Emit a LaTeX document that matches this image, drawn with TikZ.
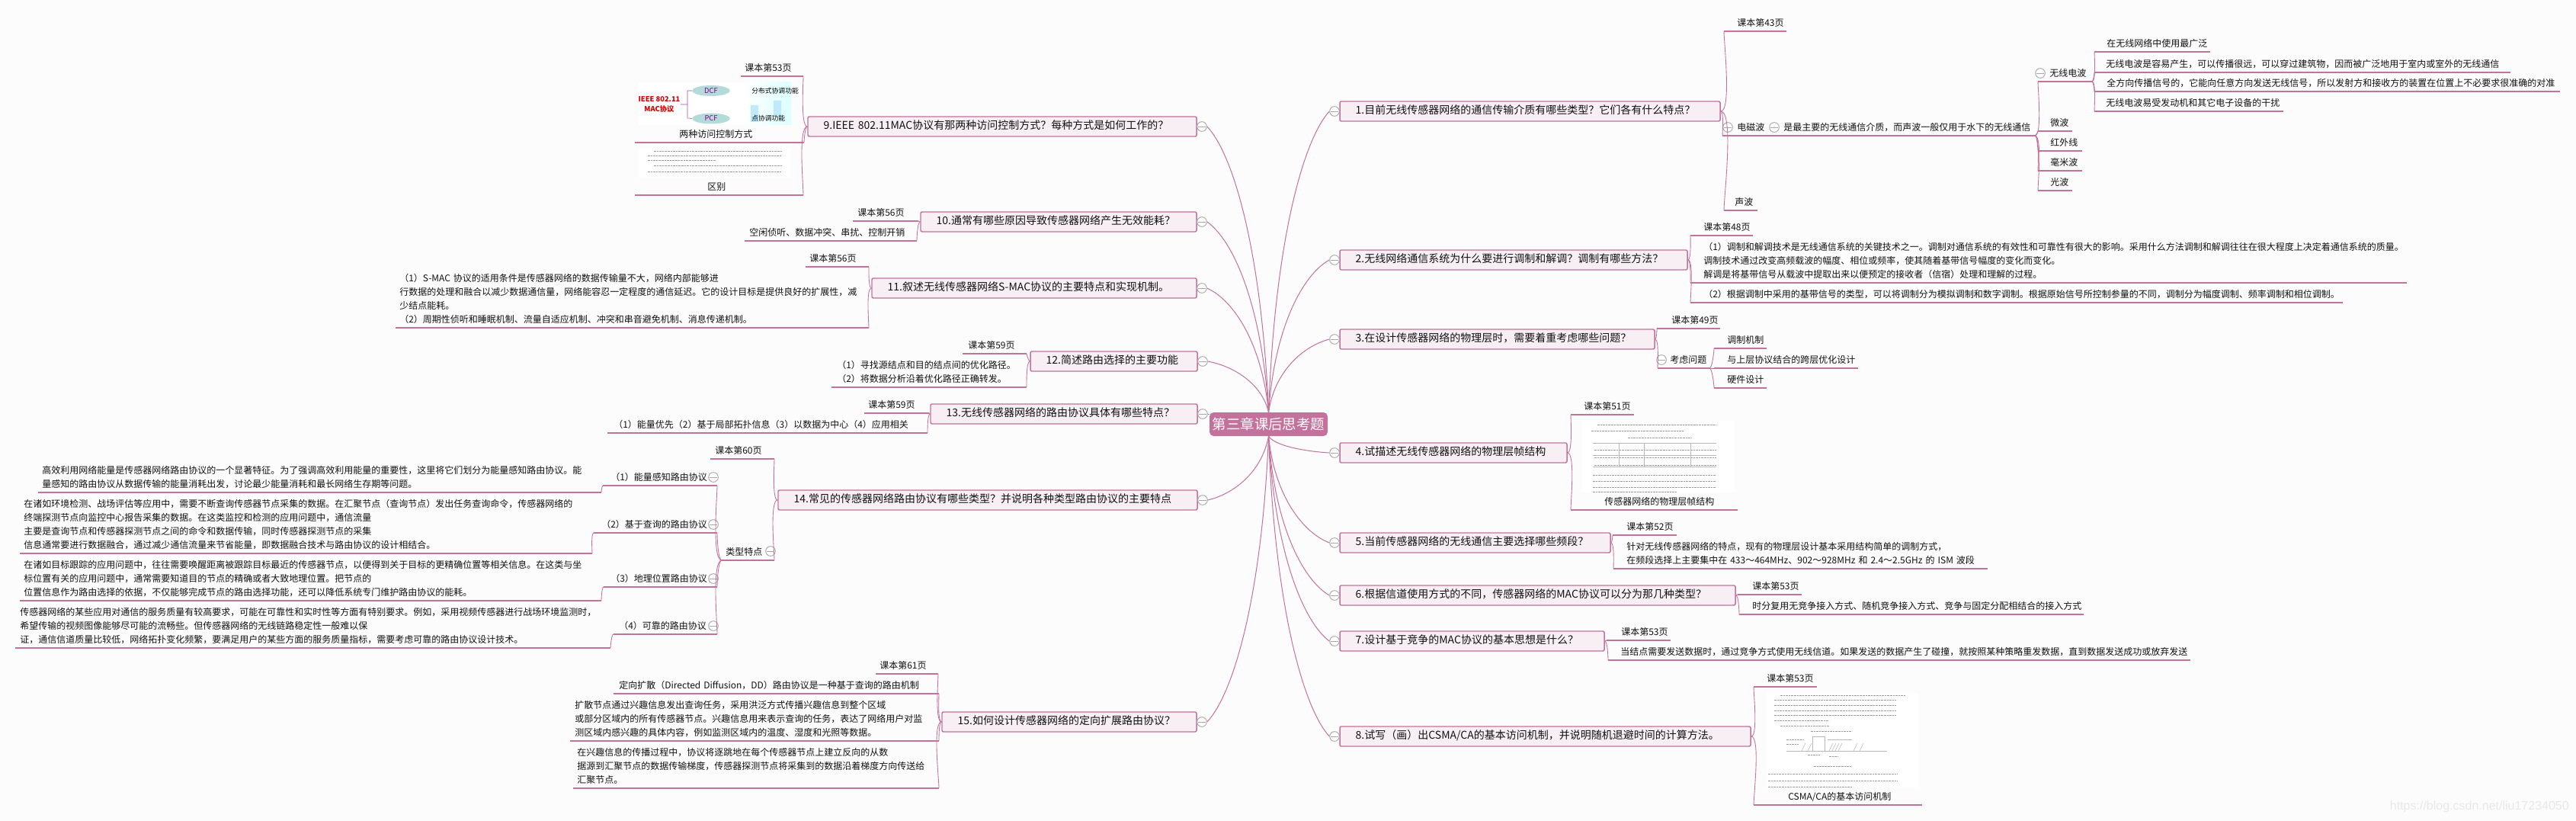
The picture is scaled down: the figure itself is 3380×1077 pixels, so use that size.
\documentclass[tikz,border=0pt]{standalone}
\usepackage{fontspec}
\usetikzlibrary{shapes.geometric}
\setmainfont{Noto Sans CJK SC}
\newfontfamily\wmfont{Liberation Sans}
\definecolor{bgc}{HTML}{FCFCFC}
\definecolor{rosec}{HTML}{C2729B}
\definecolor{boxc}{HTML}{F8EFF5}
\definecolor{iconc}{HTML}{A8A8A8}
\definecolor{inkc}{HTML}{111111}
\definecolor{thumbc}{HTML}{9A9A9A}
\definecolor{ellc}{HTML}{B5DADA}
\tikzset{
 leaf/.style={inner sep=0pt,anchor=south west,align=left,text=inkc,font=\fontsize{9}{13.5}\selectfont},
 qbox/.style={draw=rosec,line width=1.1pt,fill=boxc,rounded corners=1.5pt,anchor=center,inner xsep=15.5pt,inner ysep=0pt,align=left,text=inkc,text height=7.8pt,text depth=2.6pt,font=\fontsize{10.5}{13}\selectfont},
 rootbox/.style={fill=rosec,rounded corners=4pt,text=white,inner sep=0pt,font=\fontsize{13.8}{16}\selectfont},
 iconn/.style={circle,draw=iconc,fill=white,line width=.7pt,minimum size=9.5pt,inner sep=0pt,path picture={\draw[iconc,line width=.7pt] ([xshift=1.2pt]path picture bounding box.west) -- ([xshift=-1.2pt]path picture bounding box.east);}},
 uline/.style={draw=rosec,line width=1.1pt},
 conn/.style={draw=rosec,line width=.65pt},
 rootconn/.style={draw=rosec,line width=.75pt},
 RU/.style={out=0,in=-90,looseness=.35},
 RD/.style={out=0,in=90,looseness=.35},
 LU/.style={out=180,in=-90,looseness=.35},
 LD/.style={out=180,in=90,looseness=.35},
 thumb/.style={fill=white,draw=none,inner sep=0pt,anchor=north west},
 tline/.style={draw=thumbc,line width=.75pt,dash pattern=on 2pt off .7pt},
 tlight/.style={draw=thumbc!70,line width=.4pt},
 ell/.style={ellipse,draw=none,inner sep=0pt,fill=ellc,minimum width=37pt,minimum height=10.5pt,text=violet,font=\fontsize{7}{8}\selectfont},
 thumbtext/.style={inner sep=0pt,anchor=west,font=\fontsize{6.6}{9}\selectfont},
}
% \leafnode{name}{line left}{line right}{line y}{text x}{text}
\newcommand\leafnode[6]{%
 \pgfmathsetmacro\lfW{(max(abs(#3-#5),abs(#2-#5))+80)*0.75}%
 \node[leaf,text width=\lfW pt] (#1) at (#5,#4) {#6\rule[-4.9pt]{0pt}{5pt}};
 \coordinate (#1-l) at (#2,#4);
 \coordinate (#1-r) at (#3,#4);
 \draw[uline] (#1-l) -- (#1-r);
}
% \question{name}{x1}{x2}{yc}{text}
\newcommand\question[5]{%
 \pgfmathsetmacro\qW{(#3-#2)*0.75-31}%
 \pgfmathsetmacro\qX{(#2+#3)/2}%
 \node[qbox,text width=\qW pt,minimum height=19.5pt] (#1) at (\qX,#4) {#5};
}
% \rlink{icon}{xe}{ye}{root anchor}{y0}
\newcommand\rlink[5]{%
 \pgfmathsetmacro\ra{1664+0.1*(#2-1664)}%
 \pgfmathsetmacro\rb{#5+0.55*(#3-#5)}%
 \pgfmathsetmacro\rc{#2-0.45*(#2-1664)}%
 \pgfmathsetmacro\rd{#3-0.1*(#3-#5)}%
 \draw[rootconn] (root.#4) .. controls (\ra,\rb) and (\rc,\rd) .. (#1);
}
\begin{document}
\begin{tikzpicture}[x=0.75pt,y=-0.75pt]
\path[fill=bgc] (0,0) rectangle (3380,1077);
\useasboundingbox (0,0) rectangle (3380,1077);

% root
\node[rootbox,minimum width=116.25pt,minimum height=23.25pt,anchor=center] (root) at (1664.5,556.5) {第三章课后思考题};

% questions right
\question{q1}{1758}{2257}{146}{1.目前无线传感器网络的通信传输介质有哪些类型？它们各有什么特点？}
\question{q2}{1758}{2214}{341}{2.无线网络通信系统为什么要进行调制和解调？调制有哪些方法？}
\question{q3}{1758}{2171}{445}{3.在设计传感器网络的物理层时，需要着重考虑哪些问题？}
\question{q4}{1758}{2056}{594}{4.试描述无线传感器网络的物理层帧结构}
\question{q5}{1758}{2113}{712}{5.当前传感器网络的无线通信主要选择哪些频段？}
\question{q6}{1758}{2277}{781}{6.根据信道使用方式的不同，传感器网络的MAC协议可以分为那几种类型？}
\question{q7}{1758}{2105}{841}{7.设计基于竞争的MAC协议的基本思想是什么？}
\question{q8}{1758}{2297}{966}{8.试写（画）出CSMA/CA的基本访问机制，并说明随机退避时间的计算方法。}
% questions left
\question{q9}{1060}{1570}{166}{9.IEEE 802.11MAC协议有那两种访问控制方式？每种方式是如何工作的？}
\question{q10}{1208}{1570}{291}{10.通常有哪些原因导致传感器网络产生无效能耗？}
\question{q11}{1144}{1570}{378}{11.叙述无线传感器网络S-MAC协议的主要特点和实现机制。}
\question{q12}{1352}{1571}{474}{12.简述路由选择的主要功能}
\question{q13}{1221}{1571}{543}{13.无线传感器网络的路由协议具体有哪些特点？}
\question{q14}{1021}{1571}{656}{14.常见的传感器网络路由协议有哪些类型？并说明各种类型路由协议的主要特点}
\question{q15}{1236}{1570}{947}{15.如何设计传感器网络的定向扩展路由协议？}

% collapse icons
\foreach \n/\x/\y in {i1/1751/146,i2/1751/341,i3/1751/445,i4/1751/594,i5/1751/712,i6/1751/781,i7/1751/841,i8/1751/966,
 i9/1577/166,i10/1577/291,i11/1577/378,i12/1578/474,i13/1578/543,i14/1578/656,i15/1577/947}
  \node[iconn] (\n) at (\x,\y) {};

% root links
\rlink{i1.west}{1745}{146}{north}{541}
\rlink{i2.west}{1745}{341}{north}{541}
\rlink{i3.west}{1745}{445}{north}{541}
\rlink{i4.west}{1745}{594}{south}{572}
\rlink{i5.west}{1745}{712}{south}{572}
\rlink{i6.west}{1745}{781}{south}{572}
\rlink{i7.west}{1745}{841}{south}{572}
\rlink{i8.west}{1745}{966}{south}{572}
\rlink{i9.east}{1583}{166}{north}{541}
\rlink{i10.east}{1583}{291}{north}{541}
\rlink{i11.east}{1583}{378}{north}{541}
\rlink{i12.east}{1584}{474}{north}{541}
\draw[rootconn] (i13.east) -- (root.west |- i13.east);
\rlink{i14.east}{1584}{656}{south}{572}
\rlink{i15.east}{1583}{947}{south}{572}

% ---- Q1
\leafnode{a1}{2262}{2344}{41}{2279}{课本第43页}
\leafnode{a2}{2260}{2325}{178}{2279}{电磁波}
\leafnode{a3}{2262}{2306}{276}{2276}{声波}
\leafnode{a4}{2325}{2670}{178}{2340}{是最主要的无线通信介质，而声波一般仅用于水下的无线通信}
\leafnode{a5}{2674}{2745}{107}{2689}{无线电波}
\leafnode{a6}{2674}{2719}{172}{2690}{微波}
\leafnode{a7}{2674}{2732}{198}{2690}{红外线}
\leafnode{a8}{2674}{2732}{224}{2690}{毫米波}
\leafnode{a9}{2674}{2719}{250}{2690}{光波}
\leafnode{a10}{2748}{2900}{68}{2764}{在无线网络中使用最广泛}
\leafnode{a11}{2748}{3294}{95}{2763}{无线电波是容易产生，可以传播很远，可以穿过建筑物，因而被广泛地用于室内或室外的无线通信}
\leafnode{a12}{2748}{3359}{120}{2764}{全方向传播信号的，它能向任意方向发送无线信号，所以发射方和接收方的装置在位置上不必要求很准确的对准}
\leafnode{a13}{2748}{2996}{146}{2763}{无线电波易受发动机和其它电子设备的干扰}
\node[iconn] (ia2) at (2267,167) {};
\node[iconn] (ia4) at (2328,167) {};
\node[iconn] (ia5) at (2677,96) {};
\draw[conn] (q1.east) to[RU] (a1-l);
\draw[conn] (q1.east) to[RD] (a2-l);
\draw[conn] (q1.east) to[RD] (a3-l);
\draw[conn] (a4-r) to[RU] (a5-l);
\draw[conn] (a4-r) to[RU] (a6-l);
\draw[conn] (a4-r) to[RD] (a7-l);
\draw[conn] (a4-r) to[RD] (a8-l);
\draw[conn] (a4-r) to[RD] (a9-l);
\draw[conn] (a5-r) to[RU] (a10-l);
\draw[conn] (a5-r) to[RU] (a11-l);
\draw[conn] (a5-r) to[RD] (a12-l);
\draw[conn] (a5-r) to[RD] (a13-l);

% ---- Q2
\leafnode{b1}{2218}{2300}{309}{2235}{课本第48页}
\leafnode{b2}{2218}{3158}{371}{2235}{（1）调制和解调技术是无线通信系统的关键技术之一。调制对通信系统的有效性和可靠性有很大的影响。采用什么方法调制和解调往往在很大程度上决定着通信系统的质量。\\调制技术通过改变高频载波的幅度、相位或频率，使其随着基带信号幅度的变化而变化。\\解调是将基带信号从载波中提取出来以便预定的接收者（信宿）处理和理解的过程。}
\leafnode{b3}{2218}{3074}{397}{2235}{（2）根据调制中采用的基带信号的类型，可以将调制分为模拟调制和数字调制。根据原始信号所控制参量的不同，调制分为幅度调制、频率调制和相位调制。}
\draw[conn] (q2.east) to[RU] (b1-l);
\draw[conn] (q2.east) to[RD] (b2-l);
\draw[conn] (q2.east) to[RD] (b3-l);

% ---- Q3
\leafnode{c1}{2174}{2257}{431}{2193}{课本第49页}
\leafnode{c2}{2175}{2243}{483}{2191}{考虑问题}
\leafnode{c3}{2249}{2318}{457}{2266}{调制机制}
\leafnode{c4}{2249}{2438}{483}{2266}{与上层协议结合的跨层优化设计}
\leafnode{c5}{2249}{2318}{509}{2266}{硬件设计}
\node[iconn] (ic2) at (2180,472) {};
\draw[conn] (q3.east) to[RU] (c1-l);
\draw[conn] (q3.east) to[RD] (c2-l);
\draw[conn] (c2-r) to[RU] (c3-l);
\draw[conn] (c2-r) -- (c4-l);
\draw[conn] (c2-r) to[RD] (c5-l);

% ---- Q4
\leafnode{d1}{2061}{2144}{544}{2078}{课本第51页}
\leafnode{d2}{2061}{2280}{669}{2105}{传感器网络的物理层帧结构}
\draw[conn] (q4.east) to[RU] (d1-l);
\draw[conn] (q4.east) to[RD] (d2-l);
\node[thumb,minimum width=150pt,minimum height=70.5pt] (imgd) at (2076,552) {};
\foreach \y/\xa/\xb in {557/2096/2252,565/2088/2210,590/2092/2252,600/2092/2252,610/2092/2252,623/2090/2252,631/2090/2252,639/2090/2252,645/2090/2200}
  \draw[tline] (\xa,\y) -- (\xb,\y);
\draw[tline] (2136,574) -- (2220,574);
\draw[tlight] (2090,581) -- (2252,581) (2090,597) -- (2252,597) (2090,612) -- (2252,612);
\draw[tlight] (2124,581) -- (2124,612) (2157,581) -- (2157,612) (2218,581) -- (2218,612);

% ---- Q5
\leafnode{e1}{2116}{2200}{702}{2134}{课本第52页}
\leafnode{e2}{2117}{2608}{746}{2134}{针对无线传感器网络的特点，现有的物理层设计基本采用结构简单的调制方式，\\在频段选择上主要集中在 433～464MHz、902～928MHz 和 2.4～2.5GHz 的 ISM 波段}
\draw[conn] (q5.east) to[RU] (e1-l);
\draw[conn] (q5.east) to[RD] (e2-l);

% ---- Q6
\leafnode{f1}{2280}{2364}{780}{2299}{课本第53页}
\leafnode{f2}{2282}{2734}{806}{2299}{时分复用无竞争接入方式、随机竞争接入方式、竞争与固定分配相结合的接入方式}
\draw[conn] (q6.east) -- (f1-l);
\draw[conn] (q6.east) to[RD] (f2-l);

% ---- Q7
\leafnode{g1}{2108}{2192}{840}{2127}{课本第53页}
\leafnode{g2}{2110}{2874}{866}{2126}{当结点需要发送数据时，通过竞争方式使用无线信道。如果发送的数据产生了碰撞，就按照某种策略重发数据，直到数据发送成功或放弃发送}
\draw[conn] (q7.east) -- (g1-l);
\draw[conn] (q7.east) to[RD] (g2-l);

% ---- Q8
\leafnode{h1}{2301}{2384}{901}{2318}{课本第53页}
\leafnode{h2}{2301}{2522}{1056}{2346}{CSMA/CA的基本访问机制}
\draw[conn] (q8.east) to[RU] (h1-l);
\draw[conn] (q8.east) to[RD] (h2-l);
\node[thumb,minimum width=149pt,minimum height=93pt] (imgh) at (2318,909) {};
\foreach \y/\xa/\xb in {912/2336/2500,918/2328/2488,925/2328/2488,932/2328/2488,938/2328/2488,945/2328/2400,952/2336/2400,1015/2320/2490,1024/2320/2490,1032/2320/2430}
  \draw[tline] (\xa,\y) -- (\xb,\y);
\draw[tline] (2376,959) -- (2430,959);
\draw[tlight] (2344,985) -- (2476,985);
\foreach \xa in {2364,2372,2400,2404,2408,2412,2432,2440}
  \draw[tlight] (\xa,985) -- (\xa+5,975);
\draw[tlight] (2378,966) rectangle (2394,985);
\draw[tlight] (2398,970) -- (2430,970);
\draw[tline] (2344,970) -- (2366,970) (2344,976) -- (2360,976) (2372,990) -- (2388,990) (2400,992) -- (2412,992) (2380,1005) -- (2430,1005);

% ---- Q9
\leafnode{j1}{1054}{972}{100}{977}{课本第53页}
\leafnode{j2}{1055}{833}{187}{891}{两种访问控制方式}
\leafnode{j3}{1054}{833}{256}{928}{区别}
\draw[conn] (q9.west) to[LU] (j1-l);
\draw[conn] (q9.west) to[LD] (j2-l);
\draw[conn] (q9.west) to[LD] (j3-l);
\node[thumb,minimum width=150pt,minimum height=42pt] (imgj) at (838,108) {};
\fill[left color=white,right color=cyan!14] (977,108) rectangle (1038,164);
\fill[cyan!25] (985,138) rectangle (995,160) (1015,132) rectangle (1025,152);
\node[ell] (dcf) at (933,119) {DCF};
\node[ell] (pcf) at (933,155.5) {PCF};
\node[inner sep=0pt,align=center,font=\fontsize{7}{9.5}\selectfont\bfseries,text=red!85!black] (ieee) at (865,137) {IEEE 802.11\\MAC协议};
\node[thumbtext] (dcft) at (986,119) {分布式协调功能};
\node[thumbtext] (pcft) at (986,155) {点协调功能};
\draw[draw=violet!70,line width=.4pt] (dcf.west) -- (902,119) -- (902,155) -- (pcf.west) (902,137) -- (ieee.east);
\node[thumb,minimum width=150pt,minimum height=28.5pt] (imgj2) at (838,195) {};
\foreach \y/\xa/\xb in {199/858/1026,205/850/1026,211/850/940,217/858/1026,225/850/1026}
  \draw[tline] (\xa,\y) -- (\xb,\y);

% ---- Q10
\leafnode{k1}{1205}{1119}{290}{1125}{课本第56页}
\leafnode{k2}{1203}{977}{316}{983}{空闲侦听、数据冲突、串扰、控制开销}
\draw[conn] (q10.west) -- (k1-l);
\draw[conn] (q10.west) to[LD] (k2-l);

% ---- Q11
\leafnode{m1}{1140}{1057}{350}{1062}{课本第56页}
\leafnode{m2}{1140}{519}{430}{524}{（1）S-MAC 协议的适用条件是传感器网络的数据传输量不大，网络内部能够进\\行数据的处理和融合以减少数据通信量，网络能容忍一定程度的通信延迟。它的设计目标是提供良好的扩展性，减\\少结点能耗。\\（2）周期性侦听和睡眠机制、流量自适应机制、冲突和串音避免机制、消息传递机制。}
\draw[conn] (q11.west) to[LU] (m1-l);
\draw[conn] (q11.west) to[LD] (m2-l);

% ---- Q12
\leafnode{n1}{1347}{1263}{464}{1270}{课本第59页}
\leafnode{n2}{1347}{1091}{508}{1098}{（1）寻找源结点和目的结点间的优化路径。\\（2）将数据分析沿着优化路径正确转发。}
\draw[conn] (q12.west) to[LU] (n1-l);
\draw[conn] (q12.west) to[LD] (n2-l);

% ---- Q13
\leafnode{o1}{1219}{1134}{542}{1139}{课本第59页}
\leafnode{o2}{1217}{797}{568}{805}{（1）能量优先（2）基于局部拓扑信息（3）以数据为中心（4）应用相关}
\draw[conn] (q13.west) -- (o1-l);
\draw[conn] (q13.west) to[LD] (o2-l);

% ---- Q14
\leafnode{p1}{1016}{932}{602}{938}{课本第60页}
\leafnode{p2}{1016}{947}{735}{952}{类型特点}
\node[iconn] (ip2) at (1011,723) {};
\draw[conn] (q14.west) to[LU] (p1-l);
\draw[conn] (q14.west) to[LD] (p2-l);
\leafnode{r1}{941}{791}{637}{801}{（1）能量感知路由协议}
\leafnode{r2}{941}{779}{699}{789}{（2）基于查询的路由协议}
\leafnode{r3}{941}{792}{770}{801}{（3）地理位置路由协议}
\leafnode{r4}{941}{805}{832}{812}{（4）可靠的路由协议}
\foreach \n/\y in {1/626,2/688,3/759,4/821} \node[iconn] (ir\n) at (936,\y) {};
\draw[conn] (p2-r) to[LU] (r1-l);
\draw[conn] (p2-r) to[LU] (r2-l);
\draw[conn] (p2-r) to[LD] (r3-l);
\draw[conn] (p2-r) to[LD] (r4-l);
\leafnode{s1}{789}{50}{646}{55}{高效利用网络能量是传感器网络路由协议的一个显著特征。为了强调高效利用能量的重要性，这里将它们划分为能量感知路由协议。能\\量感知的路由协议从数据传输的能量消耗出发，讨论最少能量消耗和最长网络生存期等问题。}
\leafnode{s2}{777}{26}{726}{31}{在诸如环境检测、战场评估等应用中，需要不断查询传感器节点采集的数据。在汇聚节点（查询节点）发出任务查询命令，传感器网络的\\终端探测节点向监控中心报告采集的数据。在这类监控和检测的应用问题中，通信流量\\主要是查询节点和传感器探测节点之间的命令和数据传输，同时传感器探测节点的采集\\信息通常要进行数据融合，通过减少通信流量来节省能量，即数据融合技术与路由协议的设计相结合。}
\leafnode{s3}{789}{26}{788}{31}{在诸如目标跟踪的应用问题中，往往需要唤醒距离被跟踪目标最近的传感器节点，以便得到关于目标的更精确位置等相关信息。在这类与坐\\标位置有关的应用问题中，通常需要知道目的节点的精确或者大致地理位置。把节点的\\位置信息作为路由选择的依据，不仅能够完成节点的路由选择功能，还可以降低系统专门维护路由协议的能耗。}
\leafnode{s4}{801}{20}{850}{26}{传感器网络的某些应用对通信的服务质量有较高要求，可能在可靠性和实时性等方面有特别要求。例如，采用视频传感器进行战场环境监测时，\\希望传输的视频图像能够尽可能的流畅些。但传感器网络的无线链路稳定性一般难以保\\证，通信信道质量比较低，网络拓扑变化频繁，要满足用户的某些方面的服务质量指标，需要考虑可靠的路由协议设计技术。}
\draw[conn] (r1-r) to[LD] (s1-l);
\draw[conn] (r2-r) to[LD] (s2-l);
\draw[conn] (r3-r) to[LD] (s3-l);
\draw[conn] (r4-r) to[LD] (s4-l);

% ---- Q15
\leafnode{t1}{1231}{1149}{884}{1154}{课本第61页}
\leafnode{t2}{1232}{805}{910}{812}{定向扩散（Directed Diffusion，DD）路由协议是一种基于查询的路由机制}
\leafnode{t3}{1232}{748}{972}{754}{扩散节点通过兴趣信息发出查询任务，采用洪泛方式传播兴趣信息到整个区域\\或部分区域内的所有传感器节点。兴趣信息用来表示查询的任务，表达了网络用户对监\\测区域内感兴趣的具体内容，例如监测区域内的温度、湿度和光照等数据。}
\leafnode{t4}{1232}{752}{1034}{757}{在兴趣信息的传播过程中，协议将逐跳地在每个传感器节点上建立反向的从数\\据源到汇聚节点的数据传输梯度，传感器探测节点将采集到的数据沿着梯度方向传送给\\汇聚节点。}
\draw[conn] (q15.west) to[LU] (t1-l);
\draw[conn] (q15.west) to[LU] (t2-l);
\draw[conn] (q15.west) to[LD] (t3-l);
\draw[conn] (q15.west) to[LD] (t4-l);

% watermark
\node[inner sep=0pt,anchor=east,text=black!9,font=\wmfont\fontsize{12}{14}\selectfont] (wm) at (3371,1058) {https://blog.csdn.net/liu17234050};
\end{tikzpicture}
\end{document}
